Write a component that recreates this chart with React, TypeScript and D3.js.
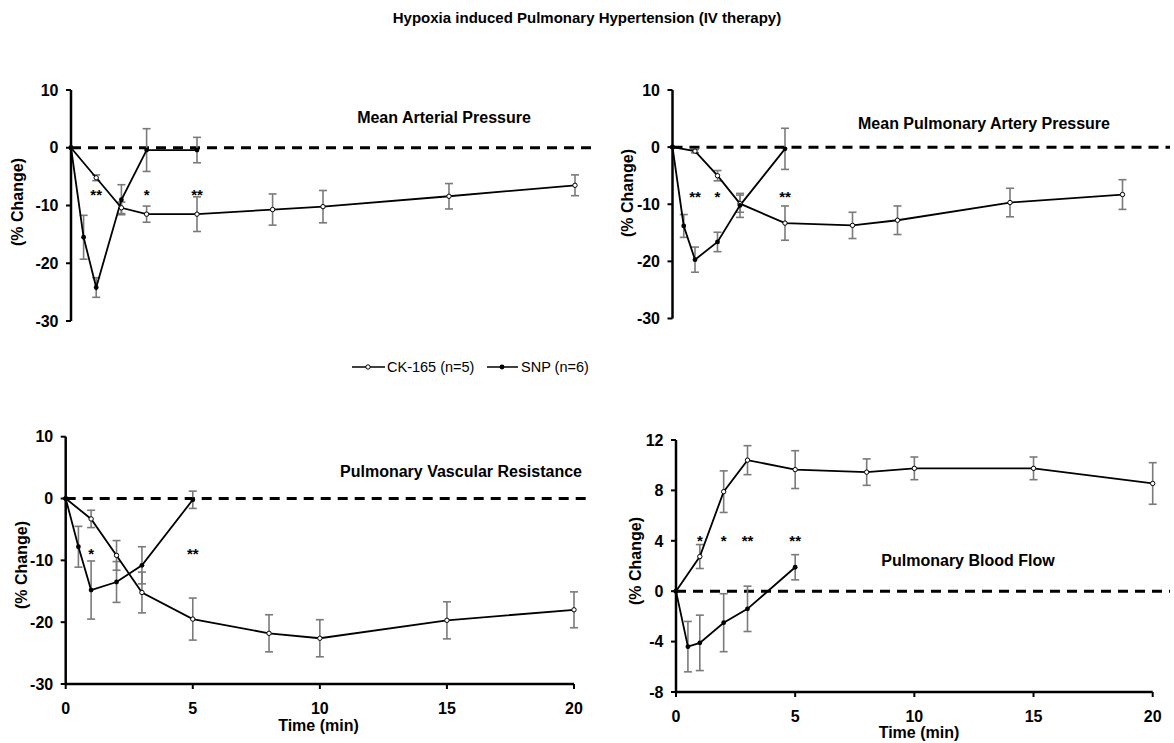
import React from "react";
import * as d3 from "d3";

// time points (min)
const ckTimes = [0, 1, 2, 3, 5, 8, 10, 15, 20];
const snpTimes = [0, 0.5, 1, 2, 3, 5];

// Mean Arterial Pressure
const mapCk = [0, -5.2, -10.4, -11.5, -11.5, -10.7, -10.2, -8.4, -6.5];
const mapCkErr = [0, 0.5, 1.0, 1.4, 3.0, 2.7, 2.8, 2.2, 1.8];
const mapSnp = [0, -15.5, -24.2, -9.0, -0.4, -0.4];
const mapSnpErr = [0, 3.8, 1.7, 2.6, 3.7, 2.2];

// Mean Pulmonary Artery Pressure
const mpapCk = [0, -0.7, -5.0, -9.9, -13.3, -13.7, -12.8, -9.7, -8.3];
const mpapCkErr = [0, 0.3, 0.9, 1.5, 3.0, 2.3, 2.5, 2.5, 2.6];
const mpapSnp = [0, -13.8, -19.7, -16.6, -10.2, -0.3];
const mpapSnpErr = [0, 2.0, 2.2, 1.7, 2.1, 3.6];

// Pulmonary Vascular Resistance
const pvrCk = [0, -3.3, -9.2, -15.2, -19.5, -21.8, -22.6, -19.7, -18.0];
const pvrCkErr = [0, 1.4, 2.4, 3.3, 3.4, 3.0, 3.0, 3.0, 2.9];
const pvrSnp = [0, -7.8, -14.8, -13.5, -10.8, -0.2];
const pvrSnpErr = [0, 3.3, 4.7, 3.3, 3.0, 1.4];

// Pulmonary Blood Flow
const pbfCk = [0, 2.75, 7.9, 10.4, 9.65, 9.45, 9.75, 9.75, 8.55];
const pbfCkErr = [0, 0.95, 1.65, 1.15, 1.5, 1.05, 0.9, 0.9, 1.65];
const pbfSnp = [0, -4.4, -4.1, -2.5, -1.4, 1.9];
const pbfSnpErr = [0, 2.0, 2.2, 2.3, 1.8, 1.0];

// significance marks: time, label
const mapStars = [[1, "**"], [3, "*"], [5, "**"]];
const mpapStars = [[1, "**"], [2, "*"], [5, "**"]];
const pvrStars = [[1, "*"], [5, "**"]];
const pbfStars = [[1, "*"], [2, "*"], [3, "**"], [5, "**"]];
const starLevels = [-7.5, -8.1, -8.4, 4.3];

const titles = [
  "Mean Arterial Pressure",
  "Mean Pulmonary Artery Pressure",
  "Pulmonary Vascular Resistance",
  "Pulmonary Blood Flow",
];
const pctTicks = [10, 0, -10, -20, -30];
const pbfTicks = [12, 8, 4, 0, -4, -8];
const timeTicks = [0, 5, 10, 15, 20];
const legendLabels = ["CK-165 (n=5)", "SNP (n=6)"];

const FONT = "'Liberation Sans', Arial, sans-serif";

// layout for each panel
const panels = [
  { x0: 71, x1: 575, yTop: 90, yBot: 321, dom: [-30, 10], ticks: pctTicks, zeroEnd: 592, xAxis: false,
    ck: mapCk, ckErr: mapCkErr, snp: mapSnp, snpErr: mapSnpErr, stars: mapStars,
    title: [444, 117], ylab: [17.5, 202] },
  { x0: 672.5, x1: 1122.5, yTop: 90, yBot: 318.5, dom: [-30, 10], ticks: pctTicks, zeroEnd: 1170, xAxis: false,
    ck: mpapCk, ckErr: mpapCkErr, snp: mpapSnp, snpErr: mpapSnpErr, stars: mpapStars,
    title: [984, 123], ylab: [627.5, 193] },
  { x0: 65.7, x1: 574, yTop: 436.7, yBot: 684, dom: [-30, 10], ticks: pctTicks, zeroEnd: 592, xAxis: true,
    ck: pvrCk, ckErr: pvrCkErr, snp: pvrSnp, snpErr: pvrSnpErr, stars: pvrStars,
    title: [461, 471], ylab: [21, 565], tickY: 714, timeLab: [318.5, 731] },
  { x0: 676, x1: 1152.7, yTop: 440, yBot: 692, dom: [-8, 12], ticks: pbfTicks, zeroEnd: 1170, xAxis: true,
    ck: pbfCk, ckErr: pbfCkErr, snp: pbfSnp, snpErr: pbfSnpErr, stars: pbfStars,
    title: [968, 560], ylab: [635, 561], tickY: 722, timeLab: [919, 738] },
];

function Panel({ p, idx }: { p: any; idx: number }) {
  const x = d3.scaleLinear().domain([0, 20]).range([p.x0, p.x1]);
  const y = d3.scaleLinear().domain(p.dom).range([p.yBot, p.yTop]);
  const line = d3.line<[number, number]>().x((d) => x(d[0])).y((d) => y(d[1]));
  const ckPts: [number, number][] = ckTimes.map((t, i) => [t, p.ck[i]]);
  const snpPts: [number, number][] = snpTimes.map((t, i) => [t, p.snp[i]]);

  const errBars = (times: number[], vals: number[], errs: number[], key: string) =>
    times.map((t, i) =>
      errs[i] > 0 ? (
        <g key={key + i} stroke="#7a7a7a" strokeWidth={1.6}>
          <line x1={x(t)} x2={x(t)} y1={y(vals[i] + errs[i])} y2={y(vals[i] - errs[i])} />
          <line x1={x(t) - 4} x2={x(t) + 4} y1={y(vals[i] + errs[i])} y2={y(vals[i] + errs[i])} />
          <line x1={x(t) - 4} x2={x(t) + 4} y1={y(vals[i] - errs[i])} y2={y(vals[i] - errs[i])} />
        </g>
      ) : null
    );

  return (
    <g>
      {/* zero line */}
      <line x1={p.x0} x2={p.zeroEnd} y1={y(0)} y2={y(0)} stroke="#000" strokeWidth={3} strokeDasharray="10,7" />
      {/* y axis */}
      <line x1={p.x0} x2={p.x0} y1={p.yTop} y2={p.yBot} stroke="#000" strokeWidth={2.5} />
      {p.ticks.map((t: number) => (
        <g key={"yt" + t}>
          <line x1={p.x0 - 5} x2={p.x0} y1={y(t)} y2={y(t)} stroke="#000" strokeWidth={2} />
          <text x={p.x0 - 12.5} y={y(t) + 5.7} textAnchor="end" fontSize={16} fontWeight="bold" fontFamily={FONT}>
            {t}
          </text>
        </g>
      ))}
      <text
        transform={`translate(${p.ylab[0] + 5.7},${p.ylab[1]}) rotate(-90)`}
        textAnchor="middle"
        fontSize={16}
        fontWeight="bold"
        fontFamily={FONT}
      >
        (% Change)
      </text>
      {p.xAxis && (
        <g>
          <line x1={p.x0} x2={p.x1} y1={p.yBot} y2={p.yBot} stroke="#000" strokeWidth={2.5} />
          {timeTicks.map((t) => (
            <g key={"xt" + t}>
              <line x1={x(t)} x2={x(t)} y1={p.yBot} y2={p.yBot + 5} stroke="#000" strokeWidth={2} />
              <text x={x(t)} y={p.tickY} textAnchor="middle" fontSize={16} fontWeight="bold" fontFamily={FONT}>
                {t}
              </text>
            </g>
          ))}
          <text x={p.timeLab[0]} y={p.timeLab[1]} textAnchor="middle" fontSize={16} fontWeight="bold" fontFamily={FONT}>
            Time (min)
          </text>
        </g>
      )}
      {errBars(ckTimes, p.ck, p.ckErr, "ce")}
      {errBars(snpTimes, p.snp, p.snpErr, "se")}
      <path d={line(ckPts) || ""} fill="none" stroke="#000" strokeWidth={1.8} />
      <path d={line(snpPts) || ""} fill="none" stroke="#000" strokeWidth={1.8} />
      {ckPts.map((d, i) => (
        <circle key={"cp" + i} cx={x(d[0])} cy={y(d[1])} r={2.2} fill="#fff" stroke="#000" strokeWidth={1} />
      ))}
      {snpPts.map((d, i) => (
        <circle key={"sp" + i} cx={x(d[0])} cy={y(d[1])} r={2.4} fill="#000" />
      ))}
      {p.stars.map((s: any, i: number) => (
        <text key={"st" + i} x={x(s[0])} y={y(starLevels[idx]) + 8.5} textAnchor="middle" fontSize={15} fontWeight="bold" fontFamily={FONT}>
          {s[1]}
        </text>
      ))}
      <text x={p.title[0]} y={p.title[1] + 6} textAnchor="middle" fontSize={16} fontWeight="bold" fontFamily={FONT}>
        {titles[idx]}
      </text>
    </g>
  );
}

export default function App() {
  const legendY = 367;
  return (
    <svg width={1174} height={743} style={{ position: "absolute", left: 0, top: 0, background: "#fff" }}>
      <rect width={1174} height={743} fill="#fff" />
      <text x={587} y={23} textAnchor="middle" fontSize={15} fontWeight="bold" fontFamily={FONT}>
        Hypoxia induced Pulmonary Hypertension (IV therapy)
      </text>
      {panels.map((p, i) => (
        <Panel key={i} p={p} idx={i} />
      ))}
      {/* legend */}
      <g>
        <line x1={352} x2={385} y1={legendY} y2={legendY} stroke="#000" strokeWidth={1.5} />
        <circle cx={368} cy={legendY} r={2.2} fill="#fff" stroke="#000" strokeWidth={1} />
        <text x={387} y={legendY + 5} fontSize={14.5} fontFamily={FONT}>{legendLabels[0]}</text>
        <line x1={487} x2={518} y1={legendY} y2={legendY} stroke="#000" strokeWidth={1.5} />
        <circle cx={502} cy={legendY} r={2.4} fill="#000" />
        <text x={521} y={legendY + 5} fontSize={14.5} fontFamily={FONT}>{legendLabels[1]}</text>
      </g>
    </svg>
  );
}
